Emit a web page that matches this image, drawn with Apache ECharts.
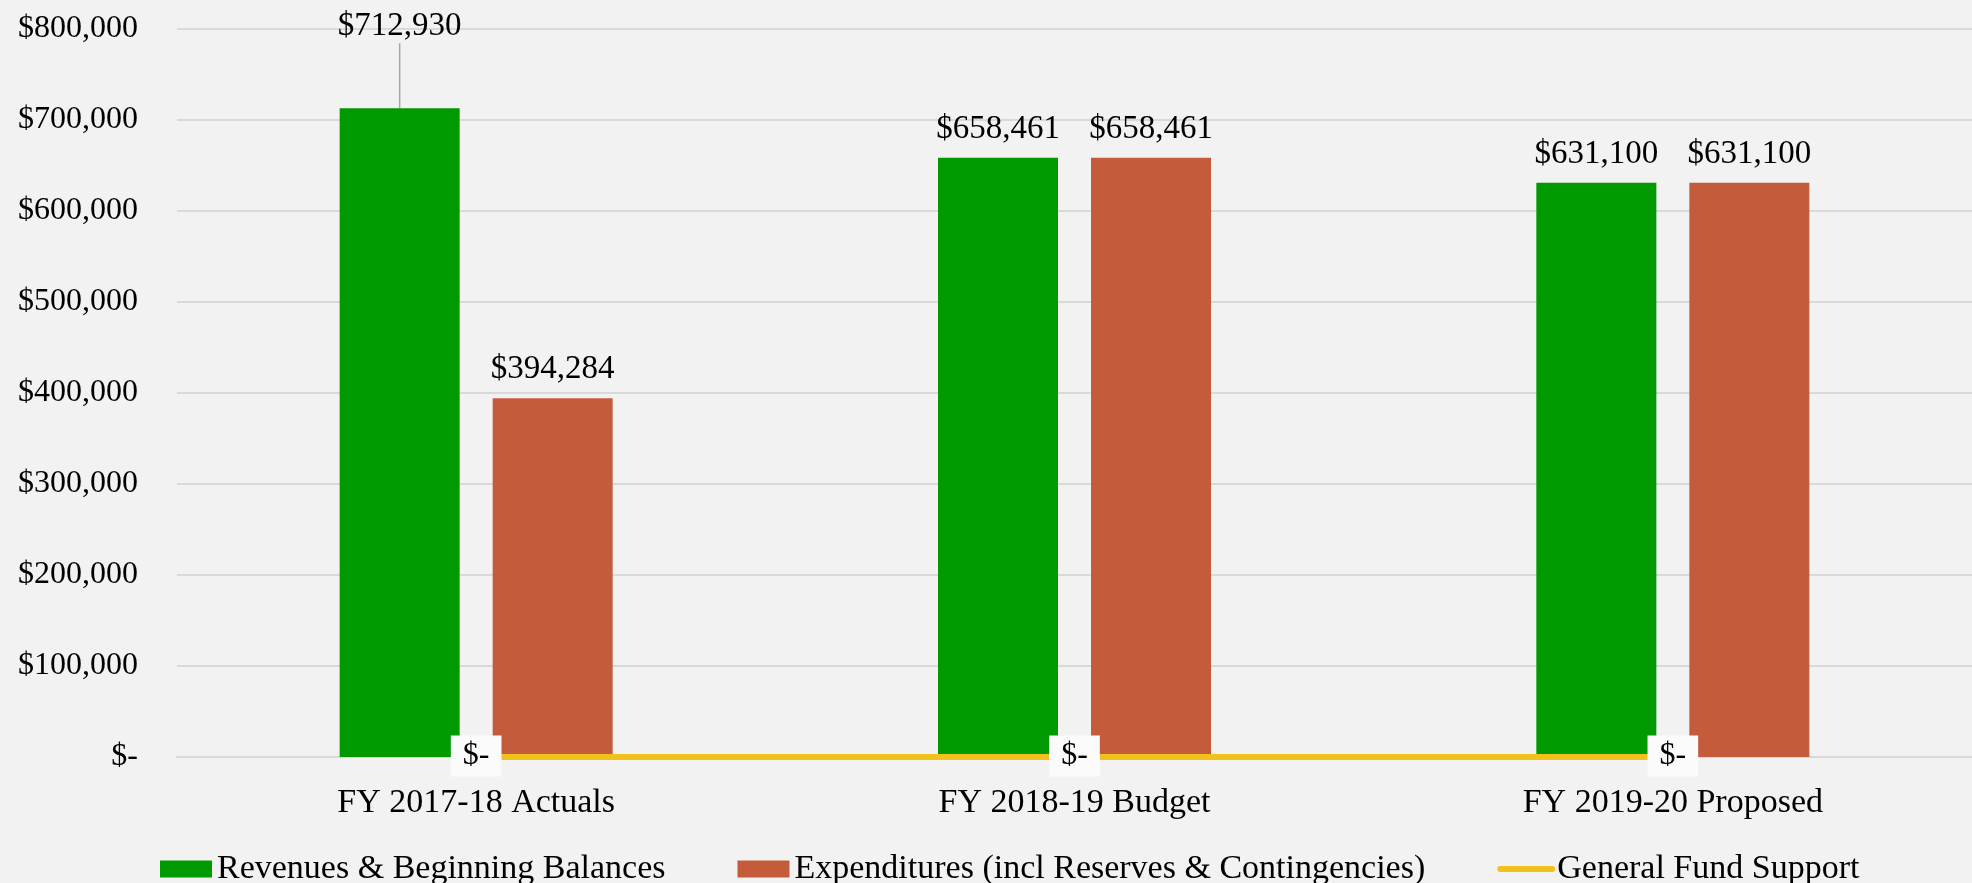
<!DOCTYPE html>
<html>
<head>
<meta charset="utf-8">
<script src="https://cdn.jsdelivr.net/npm/echarts@6/dist/echarts.min.js"></script>
<style>
  html, body { margin: 0; padding: 0; background: #f2f2f2; }
  #chart { width: 1972px; height: 883px; }
</style>
</head>
<body>
<div id="chart"></div>
<script>
var categories = ['FY 2017-18 Actuals', 'FY 2018-19 Budget', 'FY 2019-20 Proposed'];
var revenues = [712930, 658461, 631100];
var expenditures = [394284, 658461, 631100];
var generalFund = [0, 0, 0];
var seriesNames = ['Revenues & Beginning Balances', 'Expenditures (incl Reserves & Contingencies)', 'General Fund Support'];

var FONT = '"Liberation Serif", "DejaVu Serif", serif';

function money(v) {
  if (v === 0) return '$-';
  return '$' + v.toString().replace(/\B(?=(\d{3})+(?!\d))/g, ',');
}

// only the first revenue label is lifted up with a leader line
var revenueData = revenues.map(function (v, i) {
  if (i === 0) return { value: v, labelLine: { show: true } };
  return { value: v, labelLine: { show: false } };
});

var chart = echarts.init(document.getElementById('chart'));

var option = {
  backgroundColor: '#f2f2f2',
  animation: false,
  textStyle: { fontFamily: FONT },
  grid: {
    left: 177,
    top: 29,
    width: 1803,
    height: 728
  },
  legend: {
    top: 847,
    left: 155,
    itemWidth: 52,
    itemHeight: 17,
    itemGap: 72,
    textStyle: { fontFamily: FONT, fontSize: 34, color: '#000' },
    data: [
      { name: seriesNames[0], icon: 'rect' },
      { name: seriesNames[1], icon: 'rect' },
      { name: seriesNames[2], itemStyle: { opacity: 0 }, lineStyle: { width: 6, cap: 'round' } }
    ]
  },
  xAxis: {
    type: 'category',
    data: categories,
    axisTick: { show: false },
    axisLine: { show: true, lineStyle: { color: '#d9d9d9', width: 2 } },
    axisLabel: { fontFamily: FONT, fontSize: 34, color: '#000', margin: 29 }
  },
  yAxis: {
    type: 'value',
    min: 0,
    max: 800000,
    interval: 100000,
    axisLine: { show: false },
    axisTick: { show: false },
    splitLine: { lineStyle: { color: '#d9d9d9', width: 2 } },
    axisLabel: {
      fontFamily: FONT, fontSize: 32, color: '#000', margin: 39,
      formatter: function (v) { return money(v); }
    }
  },
  series: [
    {
      name: seriesNames[0],
      type: 'bar',
      data: revenueData,
      barWidth: 120,
      barGap: '27.5%',
      itemStyle: { color: '#009900' },
      label: {
        show: true, position: 'top', distance: 12,
        fontFamily: FONT, fontSize: 33, color: '#000',
        formatter: function (p) { return money(p.value); }
      },
      labelLine: { lineStyle: { color: '#a6a6a6', width: 1.5 } },
      labelLayout: function (p) {
        if (p.dataIndex === 0) return { dy: -53 };
        return {};
      }
    },
    {
      name: seriesNames[1],
      type: 'bar',
      data: expenditures,
      barWidth: 120,
      barGap: '27.5%',
      itemStyle: { color: '#c45c3c' },
      label: {
        show: true, position: 'top', distance: 12,
        fontFamily: FONT, fontSize: 33, color: '#000',
        formatter: function (p) { return money(p.value); }
      }
    },
    {
      name: seriesNames[2],
      type: 'line',
      data: generalFund,
      symbol: 'circle',
      symbolSize: 0,
      showAllSymbol: true,
      clip: false,
      z: 5,
      lineStyle: { color: '#f1c21b', width: 6 },
      itemStyle: { color: '#f1c21b' },
      label: {
        show: true, position: 'inside', offset: [0, -1],
        fontFamily: FONT, fontSize: 32, color: '#000',
        backgroundColor: '#fbfbfb', padding: [4, 12, 5, 12],
        formatter: function (p) { return money(p.value); }
      }
    }
  ]
};

chart.setOption(option);
</script>
</body>
</html>
